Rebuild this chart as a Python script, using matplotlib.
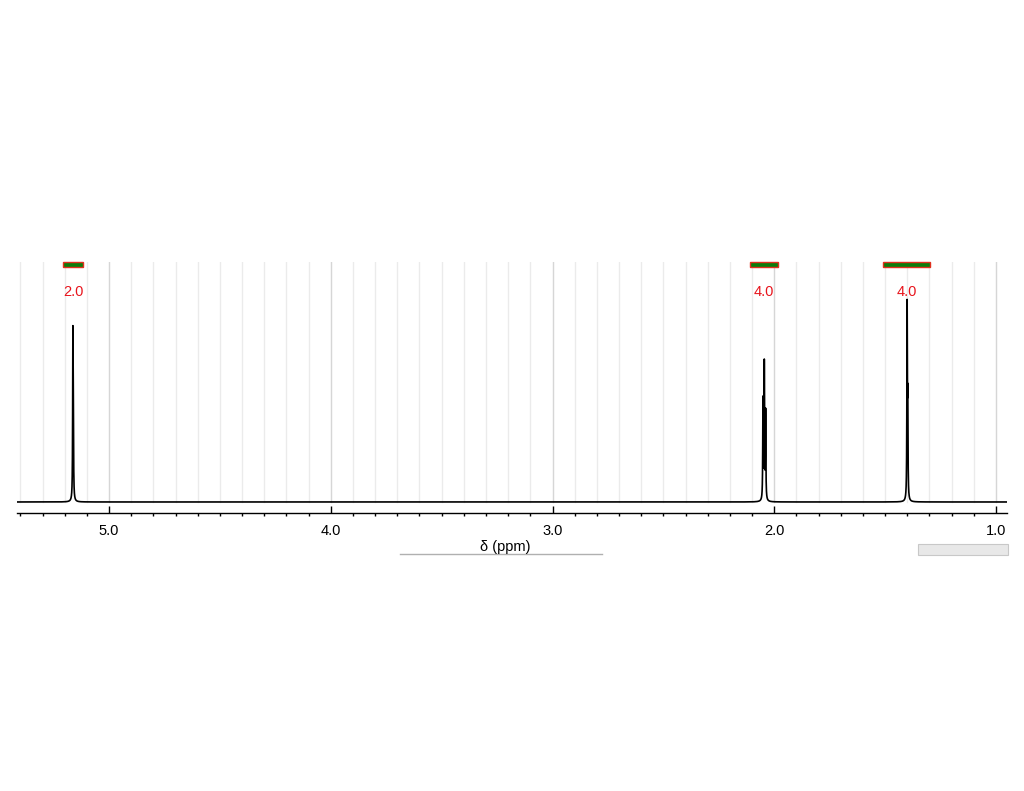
import numpy as np
import matplotlib
matplotlib.use("Agg")
import matplotlib.pyplot as plt
from matplotlib.patches import Rectangle
from matplotlib.lines import Line2D
import matplotlib.transforms as mtransforms

plt.rcParams['font.family'] = ['Liberation Sans', 'DejaVu Sans']

# ---- data ----
peak_ppm = [5.163, 5.161, 2.051, 2.045, 2.039, 1.401, 1.398]
peak_height = [0.77, 0.35, 0.49, 0.665, 0.43, 0.93, 0.45]
peak_hwhm = 0.0012

integ_ranges = [(5.206, 5.119), (2.108, 1.985), (1.508, 1.297)]
integ_labels = ["2.0", "4.0", "4.0"]

tick_values = [5.0, 4.0, 3.0, 2.0, 1.0]
tick_labels = ["5.0", "4.0", "3.0", "2.0", "1.0"]
x_left, x_right = 5.415, 0.9505

# ---- figure ----
W, H = 1024, 791
fig = plt.figure(figsize=(W / 100, H / 100), dpi=100)
ax_left, ax_right, ax_top, ax_bot = 17, 1007, 262, 513
ax = fig.add_axes([ax_left / W, (H - ax_bot) / H, (ax_right - ax_left) / W, (ax_bot - ax_top) / H])

ppm = np.linspace(x_left, x_right, 40000)
spec = np.zeros_like(ppm)
for c, h in zip(peak_ppm, peak_height):
    spec += h / (1 + ((ppm - c) / peak_hwhm) ** 2)

ax.set_xlim(x_left, x_right)
ax.set_ylim(-0.054, 1.176)

# grid lines (stop at baseline)
minor = np.round(np.arange(1.0, 5.45, 0.1), 1)
for m in minor:
    if x_right <= m <= x_left:
        major = abs(m - round(m)) < 1e-6
        ax.plot([m, m], [0, 1.176], color='#d6d6d6' if major else '#ebebeb', lw=1.0, zorder=0)

ax.plot(ppm, spec, color='black', lw=1.2, zorder=3)

# integration bars and labels
trans = mtransforms.blended_transform_factory(ax.transData, ax.transAxes)
for (a, b), lab in zip(integ_ranges, integ_labels):
    ax.add_patch(Rectangle((b, 0.980), a - b, 0.019, transform=trans,
                           facecolor='#0b7d0b', edgecolor='#e0301e', lw=1.0, zorder=4, clip_on=False))
    ax.text((a + b) / 2, 0.882, lab, transform=trans, color='#e8141c', fontsize=10.5,
            ha='center', va='center', zorder=4)

for s in ['top', 'left', 'right']:
    ax.spines[s].set_visible(False)
ax.spines['bottom'].set_linewidth(1.0)
ax.set_yticks([])
ax.set_xticks(tick_values)
ax.set_xticklabels(tick_labels, fontsize=10.5)
ax.set_xticks(minor[(minor <= x_left) & (minor >= x_right)], minor=True)
ax.tick_params(axis='x', which='major', direction='in', length=5, width=1.0, pad=8.0)
ax.tick_params(axis='x', which='minor', direction='out', length=2.5, width=1.0)

# x-label and decorations
fig.text(505 / W, 1 - 547 / H, "δ (ppm)", ha='center', va='center', fontsize=10.5)
fig.add_artist(Line2D([400 / W, 602 / W], [1 - 553.5 / H, 1 - 553.5 / H], color='#b0b0b0', lw=1.0))
fig.add_artist(Rectangle((918 / W, 1 - 555 / H), 90 / W, 11 / H, facecolor='#e8e8e8',
                         edgecolor='#c8c8c8', lw=0.8))

fig.savefig("out.png", dpi=100)
